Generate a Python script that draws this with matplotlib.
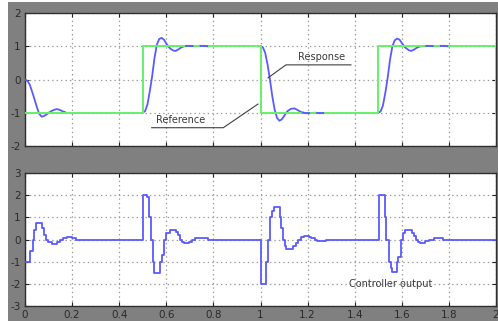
import matplotlib
matplotlib.use("Agg")
import matplotlib.pyplot as plt
from matplotlib.patches import Rectangle

plt.rcParams["axes.unicode_minus"] = False
plt.rcParams["lines.scale_dashes"] = False
plt.rcParams["font.family"] = ["DejaVu Sans"]

# ── Dados ──────────────────────────────────────────────────────────────────────

# referência (onda quadrada)
REF_T = [0.0, 0.5, 1.0, 1.5, 2.0]
REF_V = [-1.0, 1.0, -1.0, 1.0, -1.0]

# resposta do sistema, um transitório por degrau
RESP1_T = [0.0, 0.01, 0.02, 0.035, 0.05, 0.06, 0.071, 0.08, 0.092, 0.105, 0.12, 0.135, 0.15, 0.16, 0.17]
RESP1_V = [0.0, -0.04, -0.15, -0.47, -0.82, -1.03, -1.12, -1.10, -1.05, -0.98, -0.92, -0.89, -0.92, -0.96, -0.98]

RESP2_T = [0.5, 0.51, 0.52, 0.53, 0.54, 0.55, 0.56, 0.57, 0.58, 0.59, 0.60, 0.615, 0.63, 0.64,
           0.65, 0.665, 0.68, 0.70, 0.72, 0.74, 0.76, 0.78]
RESP2_V = [-1.0, -0.95, -0.75, -0.35, 0.1, 0.65, 1.05, 1.22, 1.25, 1.2, 1.08, 0.94, 0.87, 0.86,
           0.9, 0.97, 1.01, 1.01, 1.0, 1.01, 1.01, 1.0]

RESP3_T = [1.0, 1.01, 1.02, 1.03, 1.04, 1.05, 1.06, 1.07, 1.08, 1.09, 1.10, 1.115, 1.13, 1.145,
           1.16, 1.175, 1.19, 1.21, 1.23, 1.25, 1.27]
RESP3_V = [1.0, 0.97, 0.8, 0.45, 0.0, -0.5, -0.9, -1.15, -1.24, -1.2, -1.1, -0.95, -0.88, -0.87,
           -0.93, -0.99, -1.01, -1.01, -1.0, -1.01, -1.01]

RESP4_T = [1.5, 1.51, 1.52, 1.53, 1.54, 1.55, 1.56, 1.57, 1.58, 1.59, 1.60, 1.615, 1.63, 1.64,
           1.65, 1.665, 1.68, 1.70, 1.72, 1.74, 1.76, 1.78, 1.80]
RESP4_V = [-1.0, -0.96, -0.78, -0.4, 0.05, 0.6, 1.0, 1.18, 1.23, 1.2, 1.1, 0.96, 0.88, 0.86,
           0.89, 0.96, 1.0, 1.01, 1.01, 1.0, 1.01, 1.01, 1.0]

# início do trecho assentado (desenhado tracejado por cima da referência)
RESP_TAIL_START = [None, 0.68, 1.175, 1.70]

# saída do controlador (segurador de ordem zero)
CTRL1_T = [0.0, 0.021, 0.034, 0.038, 0.045, 0.072, 0.08, 0.09, 0.098, 0.113, 0.135, 0.15, 0.16,
           0.177, 0.2, 0.215, 0.225, 0.25]
CTRL1_V = [-1.0, -0.5, 0.0, 0.45, 0.73, 0.5, 0.2, 0.0, -0.1, -0.2, -0.1, 0.0, 0.07,
           0.1, 0.05, 0.0, -0.03, 0.0]

CTRL2_T = [0.5, 0.517, 0.527, 0.537, 0.545, 0.549, 0.574, 0.58, 0.592, 0.6, 0.615, 0.64, 0.648,
           0.657, 0.665, 0.675, 0.695, 0.71, 0.72, 0.775]
CTRL2_V = [2.0, 1.9, 1.0, 0.0, -1.0, -1.52, -1.0, -0.7, 0.0, 0.3, 0.43, 0.33, 0.2,
           0.0, -0.1, -0.17, -0.1, 0.0, 0.05, 0.0]

CTRL3_T = [1.0, 1.024, 1.03, 1.042, 1.05, 1.056, 1.082, 1.088, 1.095, 1.105, 1.11, 1.14, 1.15,
           1.16, 1.17, 1.185, 1.205, 1.215, 1.232, 1.24, 1.28]
CTRL3_V = [-2.0, -1.0, 0.0, 1.0, 1.3, 1.48, 1.0, 0.5, 0.0, -0.3, -0.44, -0.3, -0.15,
           0.0, 0.1, 0.16, 0.1, 0.05, 0.0, -0.05, 0.0]

CTRL4_T = [1.505, 1.527, 1.535, 1.545, 1.553, 1.56, 1.578, 1.585, 1.598, 1.605, 1.615, 1.643,
           1.65, 1.66, 1.668, 1.678, 1.7, 1.715, 1.735, 1.775, 2.0]
CTRL4_V = [2.0, 1.0, 0.0, -1.0, -1.3, -1.45, -1.0, -0.78, 0.0, 0.3, 0.43, 0.3,
           0.15, 0.0, -0.1, -0.14, -0.05, 0.0, 0.05, 0.0, 0.0]

X_TICKS = [0, 0.2, 0.4, 0.6, 0.8, 1, 1.2, 1.4, 1.6, 1.8, 2]
X_LABELS = ["0", "0.2", "0.4", "0.6", "0.8", "1", "1.2", "1.4", "1.6", "1.8", "2"]
Y_TICKS_TOP = [-2, -1, 0, 1, 2]
Y_TICKS_BOT = [-3, -2, -1, 0, 1, 2, 3]

# ── Estilo ─────────────────────────────────────────────────────────────────────

BG_GRAY = "#808080"
BLUE = "#5a5aff"
GREEN = "#66f066"
TXT = "#3a3a3a"


def estilo_eixo(ax, yticks, xlabels):
    ax.set_xlim(0, 2)
    ax.set_xticks(X_TICKS)
    ax.set_yticks(yticks)
    ax.set_ylim(yticks[0], yticks[-1])
    if xlabels:
        ax.set_xticklabels(X_LABELS)
    else:
        ax.set_xticklabels([])
    ax.set_yticklabels([str(v) for v in yticks])
    ax.tick_params(direction="in", length=3, width=0.8, colors="#202020",
                   labelcolor="#2a2a2a", labelsize=7.5, pad=3,
                   top=True, right=True)
    ax.grid(True, color="#9a9a9a", linestyle=(0, (1, 2.2)), linewidth=0.9)
    for s in ax.spines.values():
        s.set_color("#303030")
        s.set_linewidth(1.0)
    ax.set_facecolor("white")


fig = plt.figure(figsize=(4.98, 3.21), dpi=100)
fig.patch.set_facecolor("white")
fig.patches.append(Rectangle((8 / 498, 0), 1, 1 - 2 / 321, transform=fig.transFigure,
                             facecolor=BG_GRAY, edgecolor="none", zorder=-10))

ax1 = fig.add_axes([25 / 498, 1 - 146 / 321, 471 / 498, 133 / 321])
ax2 = fig.add_axes([25 / 498, 1 - 306 / 321, 471 / 498, 133 / 321])

# Painel superior — resposta e referência
resp = [(RESP1_T, RESP1_V), (RESP2_T, RESP2_V), (RESP3_T, RESP3_V), (RESP4_T, RESP4_V)]
for t, v in resp:
    ax1.plot(t, v, color=BLUE, linewidth=1.3, zorder=3)
ax1.plot(REF_T, REF_V, drawstyle="steps-post", color=GREEN, linewidth=1.4, zorder=4)
for (t, v), t0 in zip(resp, RESP_TAIL_START):
    if t0 is None:
        continue
    tt = [ti for ti in t if ti >= t0]
    vv = [vi for ti, vi in zip(t, v) if ti >= t0]
    ax1.plot(tt, vv, color=BLUE, linewidth=1.4, dashes=(6, 4.5), zorder=5)

# rótulos com linhas de chamada
ax1.plot([0.538, 0.842, 0.989], [-1.45, -1.45, -0.74], color="#404040", linewidth=0.8, zorder=6)
ax1.text(0.555, -1.22, "Reference", fontsize=7, color=TXT, va="center", ha="left", zorder=6)
ax1.plot([1.384, 1.108, 1.032], [0.44, 0.44, 0.05], color="#404040", linewidth=0.8, zorder=6)
ax1.text(1.16, 0.67, "Response", fontsize=7, color=TXT, va="center", ha="left", zorder=6)
estilo_eixo(ax1, Y_TICKS_TOP, False)

# Painel inferior — saída do controlador
ctrl_t = CTRL1_T + CTRL2_T + CTRL3_T + CTRL4_T
ctrl_v = CTRL1_V + CTRL2_V + CTRL3_V + CTRL4_V
ax2.plot(ctrl_t, ctrl_v, drawstyle="steps-post", color=BLUE, linewidth=1.3, zorder=3)
ax2.text(1.376, -2.0, "Controller output", fontsize=7, color=TXT, va="center", ha="left")
estilo_eixo(ax2, Y_TICKS_BOT, True)

fig.savefig("out.png", dpi=100)
